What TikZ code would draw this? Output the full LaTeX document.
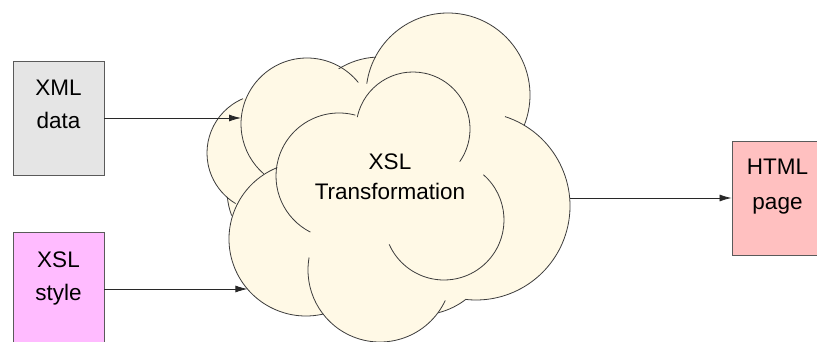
\documentclass[tikz,border=0pt]{standalone}
\usepackage{fontspec}
\setmainfont{Liberation Sans}
\usetikzlibrary{arrows.meta}
\definecolor{cloudfill}{RGB}{255,249,230}
\definecolor{cloudline}{RGB}{60,60,60}
\definecolor{xmlfill}{RGB}{229,229,229}
\definecolor{xslfill}{RGB}{255,187,255}
\definecolor{htmlfill}{RGB}{255,192,192}
\definecolor{boxline}{RGB}{90,90,90}
\definecolor{arrline}{RGB}{40,40,40}
\begin{document}
\begin{tikzpicture}[x=1pt,y=-1pt,
  box/.style={draw=boxline, line width=0.9pt, minimum width=91pt, minimum height=114pt, inner sep=0pt},
  lbl/.style={anchor=base, inner sep=0pt, font=\fontsize{22.5}{27}\selectfont},
  cloudarc/.style={draw=cloudline, line width=0.8pt},
  arr/.style={draw=arrline, line width=0.8pt, -{Latex[length=12pt,width=7pt]}}]
\useasboundingbox (0,0) rectangle (817,342);
\fill[white] (0,0) rectangle (817,342);

\node[box, fill=xmlfill] (xml) at (58.5,118) {};
\node[box, fill=xslfill] (xsl) at (58.5,289) {};
\node[box, fill=htmlfill] (html) at (777.5,198) {};

% cloud body
\foreach \cx/\cy/\r in {266/153/59, 307/124/66, 380/135/78, 448/95/82, 476/206/94, 420/240/75, 380/270/72, 306/239/77, 300/190/73, 339/176/63, 413/129/57, 444/220/60}
  \fill[cloudfill] (\cx,\cy) circle[radius=\r];

% cloud outlines
\foreach \cx/\cy/\r/\a/\b in {266/153/59/-113/-239, 307/124/66/-39/-229, 380/135/78/-93/-122, 448/95/82/-172/22, 476/206/94/-72/96, 420/240/75/52/76, 380/270/72/25/190, 306/239/77/-112/-283, 300/190/73/-185.5/-200.5, 339/176/63/-75/-243, 413/129/57/-168/35, 444/220/60/-49/156}
  \draw[cloudarc] ([shift={(\a:\r)}]\cx,\cy) arc[start angle=\a, end angle=\b, radius=\r];

\coordinate (cin1) at (241,118);
\coordinate (cin2) at (247.4,289);
\coordinate (cout) at (569.7,198);

\draw[arr] (xml.east) -- (cin1);
\draw[arr] (xsl.east) -- (cin2);
\draw[arr] (cout) -- (html.west);

\node[lbl] (t1) at (58.5,96) {XML};
\node[lbl] (t2) at (58.5,129) {data};
\node[lbl] (t3) at (58.5,267) {XSL};
\node[lbl] (t4) at (58.5,300) {style};
\node[lbl] (t5) at (777.5,175) {HTML};
\node[lbl] (t6) at (777.5,209) {page};
\node[lbl] (t7) at (390,170) {XSL};
\node[lbl] (t8) at (390,200) {Transformation};
\end{tikzpicture}
\end{document}
